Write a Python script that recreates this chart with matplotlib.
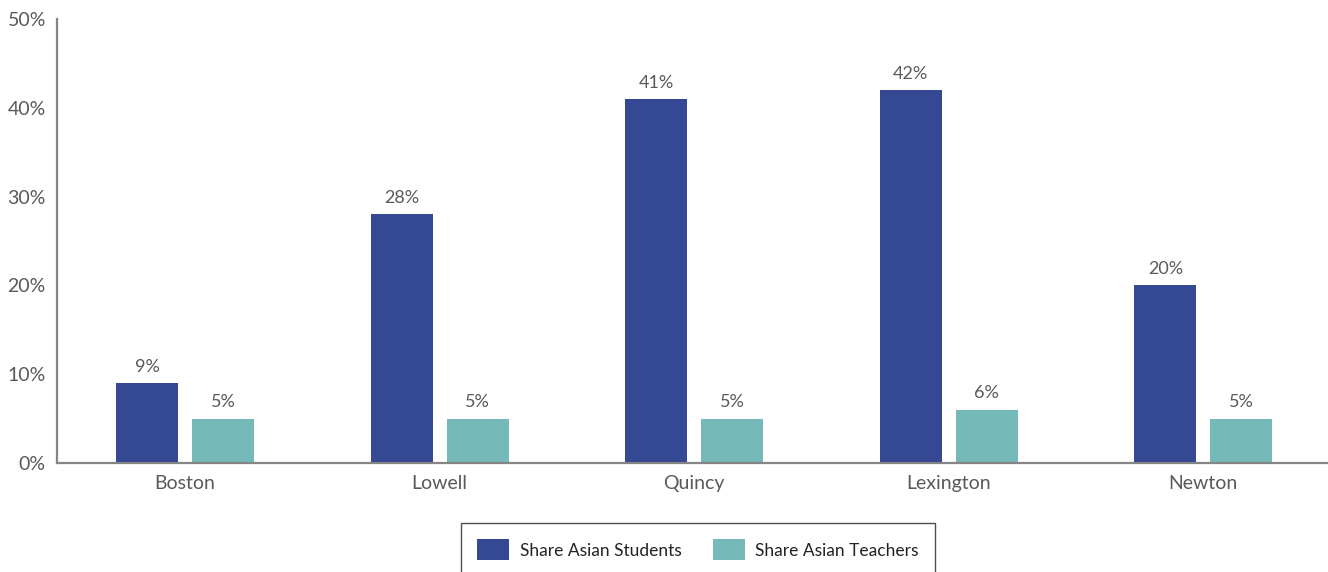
import matplotlib.pyplot as plt
import numpy as np

cities = ["Boston", "Lowell", "Quincy", "Lexington", "Newton"]
students = [9, 28, 41, 42, 20]
teachers = [5, 5, 5, 6, 5]
yticks = [0, 10, 20, 30, 40, 50]

blue = "#344893"
teal = "#75BAB9"
grey_text = "#595959"
grey_axis = "#858585"

plt.rcParams['font.family'] = ['Lato', 'DejaVu Sans']

fig = plt.figure(figsize=(13.28, 5.72), dpi=100)
ax = fig.add_axes([0.0429, 0.1906, 0.9571, 0.7762])

x = np.arange(len(cities))
w = 0.2436
off = 0.149
b1 = ax.bar(x - off, students, w, color=blue, label="Share Asian Students")
b2 = ax.bar(x + off, teachers, w, color=teal, label="Share Asian Teachers")

for bars, vals in ((b1, students), (b2, teachers)):
    for r, v in zip(bars, vals):
        ax.annotate(f"{v}%", (r.get_x() + r.get_width() / 2, v),
                    xytext=(0, 6), textcoords="offset points",
                    ha="center", va="bottom", fontsize=13, color=grey_text)

ax.set_xlim(-0.503, 4.49)
ax.set_ylim(0, 50)
ax.set_yticks(yticks)
ax.set_yticklabels([f"{t}%" for t in yticks])
ax.set_xticks(x)
ax.set_xticklabels(cities)
ax.tick_params(length=0, labelsize=14, labelcolor=grey_text)
ax.tick_params(axis="y", pad=8)
ax.tick_params(axis="x", pad=9)

for s in ("top", "right"):
    ax.spines[s].set_visible(False)
for s in ("left", "bottom"):
    ax.spines[s].set_color(grey_axis)
    ax.spines[s].set_linewidth(1.6)

leg = fig.legend(loc="upper center", bbox_to_anchor=(0.5256, 0.0857), ncol=2,
                 frameon=True, fancybox=False, edgecolor="#222222",
                 fontsize=12.5, handlelength=1.85, handleheight=1.45,
                 columnspacing=1.8, handletextpad=0.6, borderpad=0.95,
                 borderaxespad=0)
leg.get_frame().set_linewidth(1.0)
for t in leg.get_texts():
    t.set_color("#222222")

fig.savefig("out.png", dpi=100)
